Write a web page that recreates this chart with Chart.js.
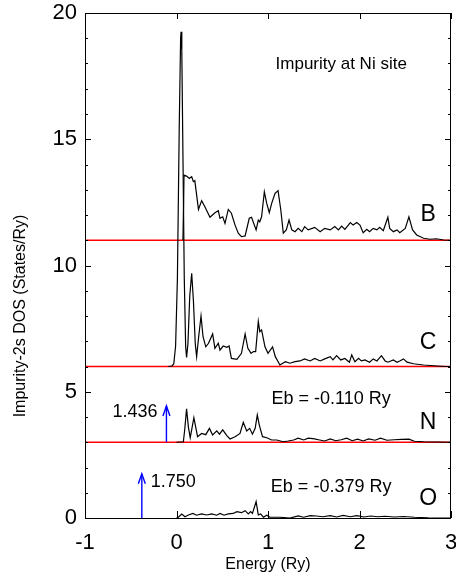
<!DOCTYPE html>
<html>
<head>
<meta charset="utf-8">
<script src="https://cdn.jsdelivr.net/npm/chart.js@4/dist/chart.umd.min.js"></script>
<style>
  html, body { margin: 0; padding: 0; background: #fff; }
</style>
</head>
<body>
<canvas id="dos" width="456" height="576"></canvas>
<script>
// impurity 2s DOS, each curve shifted up by its baseline
const impurities = ['B', 'C', 'N', 'O']
const baselines = [11, 6, 3, 0]

const energyB = [0.07, 0.078, 0.082, 0.11, 0.14, 0.166, 0.184, 0.2, 0.24, 0.275, 0.31, 0.366, 0.42, 0.457, 0.475, 0.505, 0.53, 0.566, 0.6, 0.64, 0.675, 0.71, 0.75, 0.795, 0.82, 0.87, 0.894, 0.91, 0.93, 0.96, 0.986, 1.014, 1.04, 1.077, 1.11, 1.14, 1.167, 1.2, 1.23, 1.26, 1.295, 1.33, 1.37, 1.4, 1.44, 1.51, 1.57, 1.62, 1.68, 1.73, 1.77, 1.805, 1.84, 1.9, 1.93, 1.97, 2.005, 2.04, 2.08, 2.11, 2.15, 2.19, 2.22, 2.26, 2.31, 2.33, 2.37, 2.41, 2.44, 2.5, 2.54, 2.58, 2.625, 2.7, 2.77, 2.84, 2.92, 3.0]
const dosB = [0, 1.5, 2.58, 2.54, 2.45, 2.52, 2.32, 2.36, 1.22, 1.57, 1.33, 0.91, 1.09, 1.17, 0.87, 0.93, 0.67, 1.22, 1.07, 0.6, 0.28, 0.14, 0.17, 0.87, 0.91, 0.41, 0.8, 0.73, 0.93, 1.92, 1.46, 1.09, 1.46, 1.86, 1.96, 1.2, 0.28, 0.41, 0.8, 0.41, 0.34, 0.47, 0.34, 0.54, 0.41, 0.51, 0.34, 0.47, 0.41, 0.54, 0.41, 0.56, 0.43, 0.7, 0.6, 0.7, 0.6, 0.3, 0.43, 0.34, 0.47, 0.41, 0.51, 0.38, 0.91, 0.47, 0.34, 0.41, 0.3, 0.47, 0.93, 0.41, 0.21, 0.08, 0.04, 0.06, 0.01, 0]

const energyC = [-0.09, -0.05, -0.03, -0.01, 0.01, 0.03, 0.045, 0.05, 0.058, 0.07, 0.085, 0.1, 0.11, 0.125, 0.145, 0.166, 0.185, 0.205, 0.22, 0.24, 0.268, 0.29, 0.32, 0.35, 0.395, 0.42, 0.457, 0.475, 0.51, 0.55, 0.575, 0.6, 0.66, 0.71, 0.75, 0.78, 0.815, 0.84, 0.865, 0.894, 0.91, 0.93, 0.967, 1.0, 1.05, 1.08, 1.13, 1.19, 1.24, 1.295, 1.35, 1.4, 1.46, 1.51, 1.57, 1.62, 1.68, 1.71, 1.75, 1.795, 1.84, 1.89, 1.915, 1.95, 1.99, 2.02, 2.06, 2.11, 2.15, 2.19, 2.24, 2.28, 2.31, 2.37, 2.41, 2.44, 2.48, 2.52, 2.59, 2.7, 2.81, 2.95, 3.0]
const dosC = [0, 0.02, 0.1, 0.8, 3.5, 9.5, 13.0, 13.26, 12.5, 8.5, 3.5, 0.8, 0.36, 0.9, 2.8, 3.69, 2.6, 0.9, 0.39, 1.1, 2.0, 1.18, 0.78, 0.92, 1.29, 0.72, 0.92, 0.65, 0.81, 0.76, 0.81, 0.32, 0.28, 0.52, 1.29, 0.72, 0.52, 0.59, 0.59, 1.78, 1.38, 1.45, 0.78, 0.52, 0.78, 0.39, 0.06, 0.19, 0.13, 0.19, 0.22, 0.3, 0.22, 0.32, 0.22, 0.3, 0.39, 0.26, 0.43, 0.26, 0.32, 0.17, 0.46, 0.19, 0.32, 0.22, 0.26, 0.17, 0.3, 0.22, 0.43, 0.22, 0.17, 0.26, 0.17, 0.22, 0.3, 0.17, 0.11, 0.06, 0.03, 0, 0]

const energyN = [0, 0.075, 0.09, 0.11, 0.13, 0.15, 0.19, 0.23, 0.275, 0.32, 0.36, 0.395, 0.44, 0.47, 0.505, 0.55, 0.585, 0.64, 0.694, 0.73, 0.767, 0.8, 0.83, 0.86, 0.883, 0.905, 0.94, 0.986, 1.04, 1.095, 1.167, 1.22, 1.28, 1.33, 1.39, 1.44, 1.51, 1.55, 1.62, 1.68, 1.74, 1.8, 1.86, 1.92, 1.98, 2.04, 2.1, 2.17, 2.23, 2.3, 2.38, 2.46, 2.54, 2.6, 2.7, 2.85, 3.0]
const dosN = [0, 0.02, 0.5, 1.32, 0.6, 0.18, 0.97, 0.22, 0.35, 0.3, 0.55, 0.29, 0.45, 0.32, 0.49, 0.26, 0.13, 0.22, 0.35, 0.79, 0.45, 0.55, 0.32, 0.55, 1.08, 0.68, 0.22, 0.18, 0.09, 0.09, 0.02, 0.05, 0.09, 0.16, 0.09, 0.16, 0.13, 0.1, 0.05, 0.13, 0.06, 0.1, 0.16, 0.06, 0.12, 0.05, 0.13, 0.08, 0.16, 0.08, 0.1, 0.11, 0.12, 0.04, 0.02, 0.01, 0]

const energyO = [0, 0.02, 0.057, 0.093, 0.13, 0.18, 0.22, 0.275, 0.33, 0.385, 0.44, 0.475, 0.52, 0.566, 0.62, 0.66, 0.71, 0.75, 0.785, 0.81, 0.83, 0.87, 0.894, 0.92, 0.95, 0.986, 1.02, 1.13, 1.24, 1.33, 1.39, 1.46, 1.53, 1.6, 1.68, 1.75, 1.82, 1.9, 1.97, 2.05, 2.12, 2.2, 2.28, 2.38, 2.48, 2.6, 2.75, 3.0]
const dosO = [0, 0.03, 0.16, 0.05, 0.12, 0.18, 0.11, 0.16, 0.12, 0.16, 0.11, 0.18, 0.11, 0.16, 0.18, 0.25, 0.21, 0.29, 0.16, 0.25, 0.18, 0.65, 0.12, 0.16, 0.03, 0.11, 0.03, 0.03, 0, 0.08, 0.03, 0.09, 0.08, 0.05, 0.09, 0.04, 0.1, 0.05, 0.09, 0.04, 0.08, 0.05, 0.07, 0.04, 0.06, 0.03, 0.01, 0]

// bound states below the band (N and O): energy and weight
const boundImp = ['N', 'O']
const boundEnergy = [-0.110, -0.379]
const boundWeight = [1.436, 1.750]

const xTicks = [-1, 0, 1, 2, 3]
const yTicks = [0, 5, 10, 15, 20]

const FONT = '"Liberation Sans", Arial, Helvetica, sans-serif'
const energies = [energyB, energyC, energyN, energyO]
const dosList = [dosB, dosC, dosN, dosO]

function shifted(en, dos, base) {
    return en.map((e, i) => ({x: e, y: dos[i] + base}))
}

const datasets = []
impurities.forEach((imp, k) => {
    datasets.push({
        label: imp,
        data: shifted(energies[k], dosList[k], baselines[k]),
        borderColor: '#000',
        borderWidth: 1.2,
        order: 1
    })
    if (baselines[k] > 0) {
        datasets.push({
            label: imp + ' zero',
            data: [{x: xTicks[0], y: baselines[k]}, {x: xTicks[xTicks.length - 1], y: baselines[k]}],
            borderColor: '#ff0000',
            borderWidth: 1.4,
            order: 2
        })
    }
})
boundImp.forEach((imp, k) => {
    const base = baselines[impurities.indexOf(imp)]
    datasets.push({
        label: imp + ' bound',
        data: [{x: boundEnergy[k], y: base}, {x: boundEnergy[k], y: base + boundWeight[k]}],
        borderColor: '#0000ff',
        borderWidth: 1.4,
        order: 1
    })
})

function txt(ctx, s, x, y, size, align) {
    ctx.font = size + 'px ' + FONT
    ctx.textAlign = align || 'center'
    ctx.textBaseline = 'middle'
    ctx.fillStyle = '#000'
    ctx.fillText(s, x, y)
}

const decorations = {
    id: 'decorations',
    afterDatasetsDraw(chart) {
        const {ctx, chartArea: a, scales: {x, y}} = chart
        ctx.save()

        // arrow heads on the bound-state sticks
        ctx.strokeStyle = '#0000ff'
        ctx.lineWidth = 1.4
        boundImp.forEach((imp, k) => {
            const base = baselines[impurities.indexOf(imp)]
            const px = x.getPixelForValue(boundEnergy[k])
            const py = y.getPixelForValue(base + boundWeight[k])
            ctx.beginPath()
            ctx.moveTo(px - 3.5, py + 10)
            ctx.lineTo(px, py)
            ctx.lineTo(px + 3.5, py + 10)
            ctx.stroke()
        })

        // frame with inward ticks on all four sides
        ctx.strokeStyle = '#000'
        ctx.lineWidth = 1
        ctx.strokeRect(Math.round(a.left) + 0.5, Math.round(a.top) + 0.5,
            Math.round(a.right - a.left) - 1, Math.round(a.bottom - a.top))
        ctx.beginPath()
        for (let v = y.min; v <= y.max; v++) {
            const py = Math.round(y.getPixelForValue(v)) + 0.5
            const len = v % 5 === 0 ? 6 : 3
            ctx.moveTo(a.left, py); ctx.lineTo(a.left + len, py)
            ctx.moveTo(a.right, py); ctx.lineTo(a.right - len, py)
        }
        xTicks.forEach(v => {
            const px = Math.round(x.getPixelForValue(v)) + 0.5
            ctx.moveTo(px, a.bottom); ctx.lineTo(px, a.bottom - 7)
            ctx.moveTo(px, a.top); ctx.lineTo(px, a.top + 6)
        })
        ctx.stroke()

        // labels
        txt(ctx, 'Impurity at Ni site', x.getPixelForValue(1.8), y.getPixelForValue(17.95), 17)
        impurities.forEach((imp, k) => {
            const off = [1.0, 0.93, 0.76, 0.75][k]
            txt(ctx, imp, x.getPixelForValue(2.75), y.getPixelForValue(baselines[k] + off), 23)
        })
        boundImp.forEach((imp, k) => {
            const base = baselines[impurities.indexOf(imp)]
            txt(ctx, 'Eb = ' + boundEnergy[k].toFixed(3) + ' Ry',
                x.getPixelForValue(1.69), y.getPixelForValue(base + [1.71, 1.24][k]), 18)
        })
        // stick weights: N to the left of its arrow, O to the right
        txt(ctx, boundWeight[0].toFixed(3), x.getPixelForValue(boundEnergy[0]) - 9,
            y.getPixelForValue(baselines[2] + 1.2), 18, 'right')
        txt(ctx, boundWeight[1].toFixed(3), x.getPixelForValue(boundEnergy[1]) + 9,
            y.getPixelForValue(baselines[3] + 1.44), 18, 'left')

        // y axis title
        ctx.save()
        ctx.translate(21, 316)
        ctx.rotate(-Math.PI / 2)
        txt(ctx, 'Impurity-2s DOS (States/Ry)', 0, 0, 16)
        ctx.restore()

        ctx.restore()
    }
}

new Chart(document.getElementById('dos'), {
    type: 'scatter',
    data: {datasets},
    options: {
        responsive: false,
        animation: false,
        devicePixelRatio: 1,
        showLine: true,
        elements: {point: {radius: 0}, line: {tension: 0}},
        layout: {padding: {top: 13, right: 5, left: 0, bottom: 0}},
        plugins: {legend: {display: false}, tooltip: {enabled: false}},
        scales: {
            x: {
                type: 'linear', min: -1, max: 3,
                afterBuildTicks: s => { s.ticks = xTicks.map(v => ({value: v})) },
                // keep the end labels from shrinking the plot area
                afterFit: s => { s.height = 58; s.paddingLeft = 0; s.paddingRight = 0 },
                grid: {display: false, drawTicks: false},
                border: {display: false},
                ticks: {color: '#000', padding: 12, font: {size: 22, family: FONT}, maxRotation: 0},
                title: {display: true, text: 'Energy (Ry)', color: '#000',
                    font: {size: 16, family: FONT}, padding: {top: 0, bottom: 2}}
            },
            y: {
                type: 'linear', min: 0, max: 20,
                afterBuildTicks: s => { s.ticks = yTicks.map(v => ({value: v})) },
                afterFit: s => { s.width = 85; s.paddingTop = 0; s.paddingBottom = 0 },
                grid: {display: false, drawTicks: false},
                border: {display: false},
                ticks: {color: '#000', padding: 8, font: {size: 22, family: FONT}}
            }
        }
    },
    plugins: [decorations]
})
</script>
</body>
</html>
